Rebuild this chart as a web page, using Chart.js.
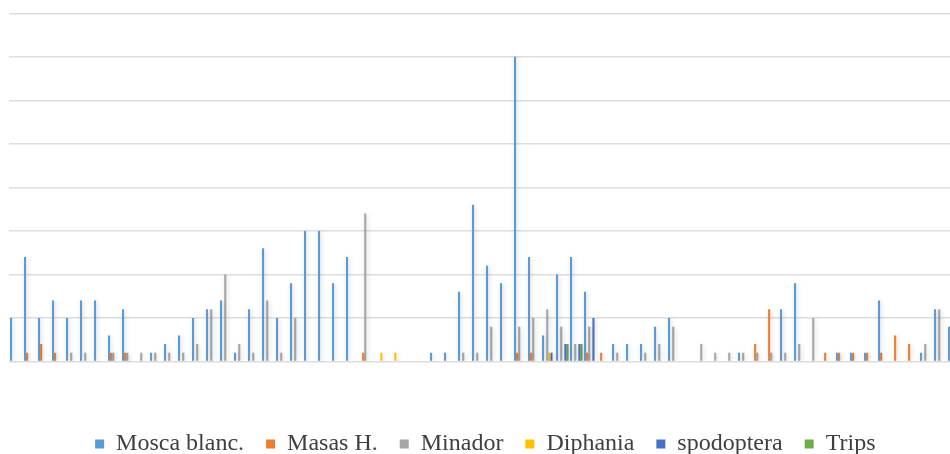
<!DOCTYPE html>
<html lang="es">

<head>
    <meta charset="UTF-8">
    <title>Plagas</title>
    <script src="https://cdn.jsdelivr.net/npm/chart.js"></script>
    <style>
        body { margin: 0; background: #fff; overflow: hidden; }
        #wrap { width: 972px; height: 466px; }
    </style>
</head>

<body>
    <div id="wrap">
        <canvas id="chart" width="972" height="466"></canvas>
    </div>
    <script>
        // 68 muestreos, sin etiquetas visibles en el eje x
        const labels = Array.from({ length: 68 }, (_, i) => String(i + 1));

        const moscaBlanca = [5, 12, 5, 7, 5, 7, 7, 3, 6, 0, 1, 2, 3, 5, 6, 7, 1, 6, 13, 5,
            9, 15, 15, 9, 12, 0, 0, 0, 0, 0, 1, 1, 8, 18, 11, 9, 35, 12, 3, 10,
            12, 8, 0, 2, 2, 2, 4, 5, 0, 0, 0, 0, 1, 0, 0, 6, 9, 0, 0, 1,
            1, 1, 7, 0, 0, 1, 6, 4];
        const masas = [0, 1, 2, 1, 0, 0, 0, 1, 1, 0, 0, 0, 0, 0, 0, 0, 0, 0, 0, 0,
            0, 0, 0, 0, 0, 1, 0, 0, 0, 0, 0, 0, 0, 0, 0, 0, 1, 1, 0, 0,
            0, 1, 1, 0, 0, 0, 0, 0, 0, 0, 0, 0, 0, 2, 6, 0, 0, 0, 1, 1,
            1, 1, 1, 3, 2, 0, 0, 0];
        const minador = [0, 0, 0, 0, 1, 1, 0, 1, 1, 1, 1, 1, 1, 2, 6, 10, 2, 1, 7, 1,
            5, 0, 0, 0, 0, 17, 0, 0, 0, 0, 0, 0, 1, 1, 4, 0, 4, 5, 6, 4,
            2, 4, 0, 1, 0, 1, 2, 4, 0, 2, 1, 1, 1, 1, 1, 1, 2, 5, 0, 0,
            0, 0, 0, 0, 0, 2, 6, 0];
        const diphania = [0, 0, 0, 0, 0, 0, 0, 0, 0, 0, 0, 0, 0, 0, 0, 0, 0, 0, 0, 0,
            0, 0, 0, 0, 0, 0, 1, 1, 0, 0, 0, 0, 0, 0, 0, 0, 0, 0, 1, 0,
            0, 0, 0, 0, 0, 0, 0, 0, 0, 0, 0, 0, 0, 0, 0, 0, 0, 0, 0, 0,
            0, 0, 0, 0, 0, 0, 0, 0];
        const spodoptera = [0, 0, 0, 0, 0, 0, 0, 0, 0, 0, 0, 0, 0, 0, 0, 0, 0, 0, 0, 0,
            0, 0, 0, 0, 0, 0, 0, 0, 0, 0, 0, 0, 0, 0, 0, 0, 0, 0, 1, 2,
            2, 5, 0, 0, 0, 0, 0, 0, 0, 0, 0, 0, 0, 0, 0, 0, 0, 0, 0, 0,
            0, 0, 0, 0, 0, 0, 0, 0];
        const trips = [0, 0, 0, 0, 0, 0, 0, 0, 0, 0, 0, 0, 0, 0, 0, 0, 0, 0, 0, 0,
            0, 0, 0, 0, 0, 0, 0, 0, 0, 0, 0, 0, 0, 0, 0, 0, 0, 0, 0, 2,
            2, 0, 0, 0, 0, 0, 0, 0, 0, 0, 0, 0, 0, 0, 0, 0, 0, 0, 0, 0,
            0, 0, 0, 0, 0, 0, 0, 0];

        // sombra suave como en Excel
        const barShadow = {
            id: 'barShadow',
            beforeDatasetsDraw(chart) {
                const ctx = chart.ctx;
                ctx.save();
                ctx.shadowColor = 'rgba(0,0,0,0.18)';
                ctx.shadowBlur = 5;
                ctx.shadowOffsetX = 1;
                ctx.shadowOffsetY = 1;
            },
            afterDatasetsDraw(chart) {
                chart.ctx.restore();
            }
        };

        function serie(label, data, color) {
            return { label: label, data: data, backgroundColor: color, borderWidth: 0 };
        }

        new Chart(document.getElementById('chart'), {
            type: 'bar',
            data: {
                labels: labels,
                datasets: [
                    serie('Mosca blanc.', moscaBlanca, '#5B9BD5'),
                    serie('Masas H.', masas, '#ED7D31'),
                    serie('Minador', minador, '#A5A5A5'),
                    serie('Diphania', diphania, '#FFC000'),
                    serie('spodoptera', spodoptera, '#4472C4'),
                    serie('Trips', trips, '#70AD47')
                ]
            },
            options: {
                responsive: false,
                devicePixelRatio: 1,
                animation: false,
                layout: { padding: { left: 9.3, right: 10.7, top: 13.3, bottom: 0 } },
                datasets: { bar: { categoryPercentage: 0.9, barPercentage: 1.0 } },
                plugins: {
                    tooltip: { enabled: false },
                    legend: {
                        position: 'bottom',
                        labels: {
                            boxWidth: 9,
                            boxHeight: 9,
                            padding: 22,
                            color: '#404040',
                            font: { family: 'Liberation Serif', size: 24 }
                        }
                    }
                },
                scales: {
                    x: {
                        ticks: { display: false },
                        grid: { display: false },
                        border: { display: false },
                        afterFit: s => { s.height = 48.5; }
                    },
                    y: {
                        min: 0,
                        max: 40,
                        ticks: { display: false, stepSize: 5 },
                        grid: { color: '#dedede', lineWidth: 1.5, drawTicks: false },
                        border: { display: false },
                        afterFit: s => { s.width = 0; }
                    }
                }
            },
            plugins: [barShadow]
        });
    </script>
</body>

</html>
